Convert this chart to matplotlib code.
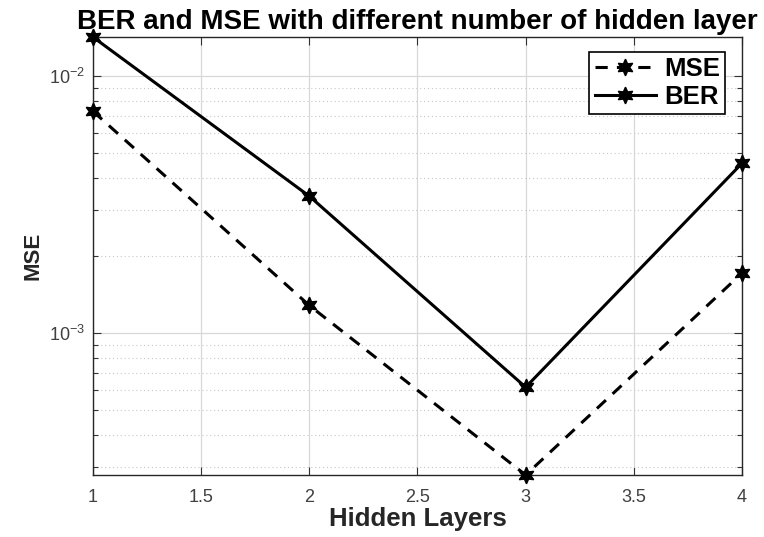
import numpy as np
import matplotlib.pyplot as plt
from matplotlib.ticker import LogLocator, NullFormatter

plt.rcParams['font.family'] = ['Liberation Sans', 'DejaVu Sans']

# Results per number of hidden layers
layers = [1, 2, 3, 4]
mse = [7.3e-3, 1.28e-3, 2.8e-4, 1.71e-3]
ber = [1.42e-2, 3.41e-3, 6.15e-4, 4.58e-3]
xticks = [1, 1.5, 2, 2.5, 3, 3.5, 4]

fig = plt.figure(figsize=(7.64, 5.37), dpi=100)
ax = fig.add_axes([0.1217, 0.1155, 0.8495, 0.8155])

star = (6, 1, 0)
ax.plot(layers, mse, color='black', linestyle=(0, (4, 3)), linewidth=2.2,
        marker=star, markersize=12, label='MSE', clip_on=False, zorder=3)
ax.plot(layers, ber, color='black', linestyle='-', linewidth=2.2,
        marker=star, markersize=12, label='BER', clip_on=False, zorder=3)

ax.set_yscale('log')
ax.set_xlim(1, 4)
ax.set_ylim(min(mse + ber), max(mse + ber))
ax.set_xticks(xticks)
ax.set_xticklabels([('%g' % t) for t in xticks])
ax.yaxis.set_minor_locator(LogLocator(base=10, subs=np.arange(2, 10)))
ax.yaxis.set_minor_formatter(NullFormatter())

ax.grid(True, which='major', color='#d8d8d8', linewidth=0.9)
ax.grid(True, which='minor', axis='y', color='#c8c8c8', linestyle=(0, (1, 2.5)), linewidth=0.8)
ax.set_axisbelow(True)

ax.tick_params(which='both', direction='in', top=True, right=True,
               labelsize=13, labelcolor='#404040', color='#333333')
ax.tick_params(axis='x', pad=10)
ax.tick_params(axis='y', pad=6)
ax.tick_params(which='major', length=6, width=0.8)
ax.tick_params(which='minor', length=3.5, width=0.8)
for s in ax.spines.values():
    s.set_color('#262626')
    s.set_linewidth(1.0)

ax.set_title('BER and MSE with different number of hidden layer',
             fontsize=20, fontweight='bold', pad=6)
ax.set_xlabel('Hidden Layers', fontsize=18.5, fontweight='bold', color='#262626', labelpad=1)
ax.set_ylabel('MSE', fontsize=16, fontweight='bold', color='#262626', labelpad=4)

leg = ax.legend(loc='upper right', handlelength=2.4, handletextpad=0.3,
                borderpad=0.2, labelspacing=0.15, borderaxespad=0, fancybox=False,
                framealpha=1, edgecolor='black', prop={'weight': 'bold', 'size': 18.5},
                bbox_to_anchor=(0.974, 0.966))
leg.get_frame().set_linewidth(1.2)

fig.savefig('out.png', dpi=100)
